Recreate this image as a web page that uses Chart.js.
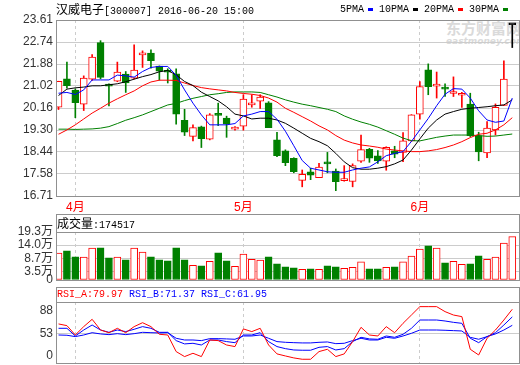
<!DOCTYPE html>
<html>
<head>
<meta charset="utf-8">
<script src="https://cdn.jsdelivr.net/npm/chart.js@4.4.1/dist/chart.umd.min.js"></script>
<style>
body { margin: 0; background: #fff; }
#wrap { position: relative; width: 520px; height: 365px; overflow: hidden; }
canvas { position: absolute; left: 0; z-index: 1; }
.box { position: absolute; border: 1px solid #909090; box-sizing: border-box; z-index: 2; }
.sep { position: absolute; left: 56px; width: 464px; height: 1px; background: #909090; z-index: 2; }
.txt { position: absolute; white-space: pre; font-family: "Liberation Mono", monospace; font-size: 10px; line-height: 12px; z-index: 2; }
.cjk { font-family: "Noto Sans CJK SC"; font-size: 12px; }
.mark { display: inline-block; width: 5px; height: 3px; vertical-align: middle; margin: 0 6px 0 4px; }
#wm { position: absolute; left: 446px; top: 20px; color: #dadada; z-index: 0; font-family: "Noto Sans CJK SC"; }
</style>
</head>
<body>
<div id="wrap">
  <div id="wm"><div style="font-size:15px;font-weight:bold;line-height:16px">东方财富网</div><div style="font:italic bold 9px 'DejaVu Sans';line-height:10px">eastmoney.com</div></div>
  <canvas id="cPrice" width="520" height="212" style="top:0"></canvas>
  <canvas id="cVol" width="520" height="92" style="top:200px"></canvas>
  <canvas id="cRsi" width="520" height="85" style="top:290px"></canvas>

  <div class="box" style="left:56px;top:20px;width:464px;height:177px"></div>
  <div class="box" style="left:56px;top:214px;width:464px;height:67px"></div>
  <div class="sep" style="top:232px"></div>
  <div class="box" style="left:56px;top:287px;width:464px;height:77px"></div>
  <div class="sep" style="top:302px"></div>

  <div class="txt" style="left:56px;top:3px"><span class="cjk">汉威电子</span>[300007] 2016-06-20 15:00</div>
  <div class="txt" style="left:340px;top:4px">5PMA<span class="mark" style="background:#0000ff"></span>10PMA<span class="mark" style="background:#000"></span>20PMA<span class="mark" style="background:#ff0000"></span>30PMA<span class="mark" style="background:#008000;margin-right:0"></span></div>
  <div class="txt" style="left:57px;top:217px"><span class="cjk">成交量</span>:174517</div>
  <div class="txt" style="left:57px;top:289px"><span style="color:#ff0000">RSI_A:79.97</span> <span style="color:#0000ff">RSI_B:71.37</span> <span style="color:#0000ff">RSI_C:61.95</span></div>
</div>

<script>
// trading days shown
const dates = [
  '2016-03-30', '2016-03-31',
  '2016-04-01', '2016-04-05', '2016-04-06', '2016-04-07', '2016-04-08', '2016-04-11', '2016-04-12',
  '2016-04-13', '2016-04-14', '2016-04-15', '2016-04-18', '2016-04-19', '2016-04-20', '2016-04-21',
  '2016-04-22', '2016-04-25', '2016-04-26', '2016-04-27', '2016-04-28', '2016-04-29',
  '2016-05-03', '2016-05-04', '2016-05-05', '2016-05-06', '2016-05-09', '2016-05-10', '2016-05-11',
  '2016-05-12', '2016-05-13', '2016-05-16', '2016-05-17', '2016-05-18', '2016-05-19', '2016-05-20',
  '2016-05-23', '2016-05-24', '2016-05-25', '2016-05-26', '2016-05-27', '2016-05-30', '2016-05-31',
  '2016-06-01', '2016-06-02', '2016-06-03', '2016-06-06', '2016-06-07', '2016-06-08', '2016-06-13',
  '2016-06-14', '2016-06-15', '2016-06-16', '2016-06-17', '2016-06-20'
];

// OHLC
const opens = [20.19, 21.30, 20.86, 20.31, 21.29, 22.72, 21.08, 21.21, 21.49, 21.33,
  22.24, 22.31, 21.80, 21.64, 21.50, 19.68, 19.05, 19.42, 18.94, 19.89,
  19.76, 19.33, 19.45, 20.28, 20.43, 20.36, 18.91, 18.48, 18.19, 17.32,
  17.66, 17.43, 17.99, 17.69, 17.31, 17.28, 18.08, 18.54, 18.28, 18.08,
  18.48, 18.42, 18.87, 19.92, 21.66, 21.02, 20.92, 20.73, 20.66, 20.31,
  19.08, 18.40, 19.30, 20.26, 23.42];
const highs = [21.21, 21.96, 20.91, 21.42, 22.25, 22.80, 21.11, 21.96, 21.59, 22.64,
  22.40, 22.44, 21.81, 21.70, 21.70, 20.11, 19.50, 19.45, 19.94, 20.35,
  19.84, 19.43, 20.68, 20.68, 20.68, 20.41, 19.21, 18.52, 18.21, 17.73,
  17.80, 17.99, 18.42, 17.77, 17.90, 17.97, 19.10, 18.58, 18.49, 18.64,
  18.66, 19.20, 19.90, 21.20, 21.89, 21.57, 21.11, 21.38, 20.77, 20.74,
  19.21, 19.63, 20.32, 22.01, 23.42];
const lows = [20.10, 20.94, 19.78, 20.06, 21.24, 21.30, 20.24, 21.19, 20.77, 21.30,
  21.75, 21.72, 21.25, 21.14, 19.53, 19.08, 18.87, 18.61, 18.91, 19.47,
  19.01, 19.29, 19.29, 20.19, 20.14, 19.39, 18.25, 17.90, 17.62, 17.07,
  17.35, 17.43, 17.62, 16.92, 17.29, 17.07, 18.03, 18.03, 17.99, 17.72,
  18.21, 18.06, 18.85, 19.72, 20.68, 20.55, 20.61, 20.61, 20.18, 19.04,
  18.09, 18.21, 19.10, 20.26, 22.53];
const closes = [21.21, 21.04, 20.37, 21.33, 22.16, 21.36, 21.02, 21.57, 21.14, 21.65,
  22.26, 22.02, 21.60, 21.56, 19.92, 19.21, 19.39, 18.96, 19.89, 19.87,
  19.54, 19.35, 20.51, 20.30, 20.59, 19.39, 18.29, 18.02, 17.66, 17.56,
  17.53, 17.84, 17.97, 17.27, 17.33, 17.90, 18.53, 18.19, 18.09, 18.62,
  18.35, 18.87, 19.89, 21.00, 21.00, 21.04, 20.90, 20.75, 20.70, 19.08,
  18.44, 19.37, 20.19, 21.29, 23.42];

// moving averages
const ma5 = [20.74, 20.77, 20.69, 20.87, 21.26, 21.26, 21.26, 21.45, 21.42, 21.37,
  21.59, 21.75, 21.79, 21.79, 21.44, 20.87, 20.35, 19.89, 19.50, 19.50,
  19.50, 19.55, 19.85, 19.92, 20.02, 20.02, 19.72, 19.25, 18.68, 18.10,
  17.80, 17.73, 17.66, 17.64, 17.64, 17.73, 17.80, 17.85, 18.05, 18.29,
  18.38, 18.45, 18.85, 19.30, 19.75, 20.25, 20.70, 20.92, 20.90, 20.55,
  20.05, 19.69, 19.60, 19.65, 20.55];
const ma10 = [20.65, 20.90, 20.95, 20.98, 21.03, 21.03, 21.07, 21.11, 21.19, 21.29,
  21.39, 21.47, 21.58, 21.63, 21.46, 21.20, 21.04, 20.78, 20.61, 20.44,
  20.21, 19.92, 19.85, 19.73, 19.76, 19.76, 19.69, 19.56, 19.37, 19.17,
  18.97, 18.84, 18.68, 18.38, 18.05, 17.82, 17.76, 17.76, 17.80, 17.86,
  17.97, 18.12, 18.51, 18.95, 19.37, 19.69, 19.92, 20.02, 20.11, 20.15,
  20.18, 20.21, 20.25, 20.28, 20.48];
const ma20 = [19.13, 19.30, 19.50, 19.73, 19.96, 20.15, 20.35, 20.52, 20.68, 20.83,
  21.03, 21.18, 21.25, 21.25, 21.24, 21.14, 21.04, 20.96, 20.91, 20.87,
  20.83, 20.77, 20.73, 20.70, 20.65, 20.55, 20.39, 20.15, 19.99, 19.82,
  19.65, 19.46, 19.30, 19.08, 18.90, 18.79, 18.71, 18.67, 18.62, 18.55,
  18.51, 18.48, 18.45, 18.45, 18.48, 18.53, 18.61, 18.71, 18.84, 19.00,
  19.13, 19.17, 19.30, 19.50, 19.78];
const ma30 = [19.33, 19.33, 19.32, 19.33, 19.34, 19.37, 19.43, 19.55, 19.68, 19.78,
  19.89, 20.02, 20.15, 20.28, 20.34, 20.45, 20.54, 20.61, 20.68, 20.72,
  20.77, 20.79, 20.79, 20.79, 20.77, 20.68, 20.59, 20.48, 20.39, 20.31,
  20.25, 20.18, 20.11, 20.02, 19.85, 19.72, 19.61, 19.52, 19.41, 19.27,
  19.13, 18.98, 18.88, 18.87, 18.94, 19.01, 19.06, 19.10, 19.10, 19.10,
  19.08, 19.05, 19.06, 19.10, 19.14];

// volume, in 万
const volumes = [10.79, 11.74, 9.31, 9.17, 12.82, 12.95, 8.90, 9.17, 8.09, 12.82,
  11.20, 9.31, 8.09, 7.69, 12.95, 8.09, 5.94, 5.67, 7.55, 10.93,
  7.69, 5.53, 10.39, 8.36, 7.96, 9.31, 6.48, 5.26, 4.86, 4.32,
  4.45, 4.32, 5.67, 5.26, 4.72, 5.13, 7.28, 4.45, 4.45, 5.13,
  5.26, 7.28, 9.58, 12.41, 13.76, 12.82, 6.88, 7.55, 6.34, 6.48,
  9.71, 8.36, 9.17, 14.84, 17.45];

// RSI
const rsiA = [63.5, 61.6, 51.1, 60.5, 68.7, 56.7, 53.7, 58.6, 53.7, 60.5,
  64.9, 60.5, 51.9, 51.1, 32.5, 26.9, 30.6, 26.9, 45.5, 44.8,
  39.9, 38.1, 57.9, 54.9, 58.6, 39.9, 29.9, 27.6, 25.4, 23.9,
  23.9, 32.5, 35.1, 26.9, 29.9, 43.7, 59.7, 51.1, 50.0, 60.5,
  53.7, 64.2, 73.5, 82.9, 82.9, 82.9, 77.3, 73.5, 71.7, 35.1,
  28.7, 47.4, 56.7, 67.9, 79.97];
const rsiB = [58.6, 58.6, 50.0, 56.7, 62.3, 56.7, 54.1, 56.7, 54.9, 57.5,
  60.5, 58.6, 54.1, 54.1, 44.8, 41.1, 41.8, 39.9, 45.5, 45.5,
  43.7, 42.5, 51.1, 51.1, 53.7, 43.7, 38.1, 35.8, 34.3, 34.0,
  34.0, 37.3, 38.1, 34.3, 35.8, 43.7, 48.5, 46.7, 46.3, 50.0,
  48.5, 51.9, 58.6, 67.9, 67.9, 67.9, 66.8, 65.3, 64.2, 47.4,
  42.5, 49.3, 53.7, 62.3, 71.37];
const rsiC = [51.1, 50.8, 49.3, 51.1, 53.7, 52.3, 51.5, 52.6, 51.5, 52.6,
  54.1, 53.7, 53.4, 53.7, 47.4, 45.5, 45.5, 44.8, 47.0, 47.0,
  46.7, 46.3, 50.0, 50.0, 51.1, 47.4, 43.7, 42.9, 42.5, 42.2,
  42.2, 42.9, 43.3, 41.4, 41.8, 44.8, 47.4, 45.5, 45.5, 48.5,
  47.4, 50.0, 53.0, 56.7, 56.7, 56.7, 56.4, 56.0, 55.6, 48.5,
  46.3, 49.3, 52.3, 56.7, 61.95];

// axis labels
const priceTickLabels = ['16.71', '17.58', '18.44', '19.30', '20.16', '21.02', '21.88', '22.74', '23.61'];
const volTickValues = [0, 3.5, 8.7, 14.0, 19.3];
const volTickLabels = ['0', '3.5万', '8.7万', '14.0万', '19.3万'];
const rsiTickLabels = ['0', '53', '88'];

const UP = '#ff0000';
const DOWN = '#008000';
const FLAT = '#000000';
const GRID = '#cccccc';
const tickFont = { family: '"Liberation Sans", "Noto Sans CJK SC", sans-serif', size: 12 };

// month starts -> x ticks
const monthStarts = [];
dates.forEach((d, i) => {
  if (i > 0 && d.slice(5, 7) !== dates[i - 1].slice(5, 7)) monthStarts.push(i);
});
const monthLabel = i => parseInt(dates[i].slice(5, 7), 10) + '月';

const candleColor = dates.map((d, i) =>
  closes[i] > opens[i] ? UP : (closes[i] < opens[i] ? DOWN : FLAT));
const bodyFill = dates.map((d, i) => closes[i] > opens[i] ? '#ffffff' : candleColor[i]);
const volColor = dates.map((d, i) => closes[i] >= opens[i] ? UP : DOWN);
const volFill = dates.map((d, i) => closes[i] >= opens[i] ? '#ffffff' : DOWN);

const xMin = -0.3, xMax = 54.8;

function xAxis(showLabels) {
  return {
    type: 'linear',
    min: xMin,
    max: xMax,
    offset: false,
    afterBuildTicks: s => { s.ticks = monthStarts.map(v => ({ value: v })); },
    afterFit: s => { s.height = showLabels ? 16 : 0; },
    grid: { color: GRID, drawTicks: false, offset: false },
    border: { display: false, dash: [3, 3] },
    ticks: {
      display: showLabels,
      autoSkip: false,
      maxRotation: 0,
      padding: 4,
      color: UP,
      font: tickFont,
      callback: v => monthLabel(v)
    }
  };
}

function yAxis(min, max, tickValues, labels, gridFn) {
  return {
    min: min,
    max: max,
    afterBuildTicks: s => { s.ticks = tickValues.map(v => ({ value: v })); },
    afterFit: s => { s.width = 56; },
    grid: { color: gridFn || GRID, drawTicks: false },
    border: { display: false },
    ticks: {
      autoSkip: false,
      padding: 3,
      color: '#333',
      font: tickFont,
      callback: (v, i) => labels[i]
    }
  };
}

const pts = arr => arr.map((v, i) => ({ x: i, y: v }));

function maLine(arr, color) {
  return {
    type: 'line', data: pts(arr), borderColor: color, borderWidth: 1,
    pointRadius: 0, tension: 0, order: 0
  };
}

const common = {
  responsive: false,
  animation: false,
  events: [],
  plugins: { legend: { display: false }, tooltip: { enabled: false } }
};

// 1. Price chart with candles and moving averages
const priceMin = 16.71, priceMax = 23.61;
const priceTicks = priceTickLabels.map((t, k) => priceMin + k * (priceMax - priceMin) / (priceTickLabels.length - 1));

new Chart(document.getElementById('cPrice'), {
  type: 'bar',
  data: {
    datasets: [
      maLine(ma5, '#0000ff'),
      maLine(ma10, '#000000'),
      maLine(ma20, '#ff0000'),
      maLine(ma30, '#008000'),
      {
        // candle bodies
        data: dates.map((d, i) => ({ x: i, y: [opens[i], closes[i]] })),
        backgroundColor: bodyFill,
        borderColor: candleColor,
        borderWidth: 1,
        borderSkipped: false,
        barThickness: 7,
        minBarLength: 2,
        grouped: false,
        order: 1
      },
      {
        // wicks
        data: dates.map((d, i) => ({ x: i, y: [lows[i], highs[i]] })),
        backgroundColor: candleColor,
        barThickness: 1,
        grouped: false,
        order: 2
      }
    ]
  },
  options: {
    ...common,
    layout: { padding: { top: 20, right: 1, left: 0, bottom: 0 } },
    scales: {
      x: xAxis(true),
      y: yAxis(priceMin, priceMax, priceTicks, priceTickLabels)
    }
  }
});

// 2. Volume chart
new Chart(document.getElementById('cVol'), {
  type: 'bar',
  data: {
    datasets: [{
      data: pts(volumes),
      backgroundColor: volFill,
      borderColor: volColor,
      borderWidth: 1,
      borderSkipped: false,
      barThickness: 7,
      grouped: false
    }]
  },
  options: {
    ...common,
    layout: { padding: { top: 32, right: 1, left: 0, bottom: 12 } },
    scales: {
      x: xAxis(false),
      y: yAxis(0, 19.3, volTickValues, volTickLabels)
    }
  }
});

// 3. RSI chart
const rsiMid = 53;
new Chart(document.getElementById('cRsi'), {
  type: 'line',
  data: {
    datasets: [
      { data: pts(rsiA), borderColor: '#ff0000', borderWidth: 1, pointRadius: 0, tension: 0 },
      { data: pts(rsiB), borderColor: '#0000ff', borderWidth: 1, pointRadius: 0, tension: 0 },
      { data: pts(rsiC), borderColor: '#0000ff', borderWidth: 1, pointRadius: 0, tension: 0 }
    ]
  },
  options: {
    ...common,
    layout: { padding: { top: 12, right: 1, left: 0, bottom: 12 } },
    scales: {
      x: xAxis(false),
      y: yAxis(19.7, 88.1, [rsiMid - 25, rsiMid, rsiMid + 25], rsiTickLabels,
        c => (c.tick && c.tick.value === rsiMid) ? GRID : 'rgba(0,0,0,0)')
    }
  }
});
</script>
</body>
</html>
